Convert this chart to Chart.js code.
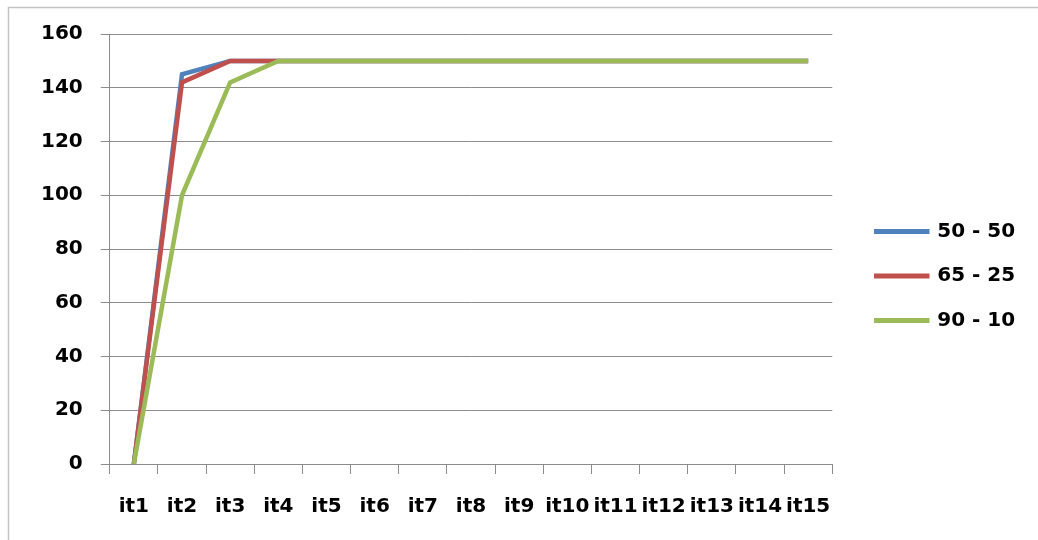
<!DOCTYPE html>
<html>
<head>
<meta charset="utf-8">
<script src="https://cdn.jsdelivr.net/npm/chart.js@4/dist/chart.umd.min.js"></script>
<style>
  html, body { margin: 0; padding: 0; background: #fff; }
  #wrap { position: relative; width: 1038px; height: 540px; }
</style>
</head>
<body>
<div id="wrap"><canvas id="chart"></canvas></div>
<script>
const categories = ['it1', 'it2', 'it3', 'it4', 'it5', 'it6', 'it7', 'it8', 'it9', 'it10', 'it11', 'it12', 'it13', 'it14', 'it15'];
const series5050 = [0, 145, 150, 150, 150, 150, 150, 150, 150, 150, 150, 150, 150, 150, 150];
const series6525 = [0, 142, 150, 150, 150, 150, 150, 150, 150, 150, 150, 150, 150, 150, 150];
const series9010 = [0, 100, 142, 150, 150, 150, 150, 150, 150, 150, 150, 150, 150, 150, 150];
const seriesNames = ['50 - 50', '65 - 25', '90 - 10'];
const yMin = 0;
const yMax = 160;
const yStep = 20;

const labelFont = { family: '"DejaVu Sans"', size: 20, weight: 'bold' };
const gridGray = '#8c8c8c';

// light frame around the whole chart, like the office export
const framePlugin = {
  id: 'frame',
  beforeDraw(chart) {
    const { ctx } = chart;
    ctx.save();
    ctx.fillStyle = '#fff';
    ctx.fillRect(0, 0, chart.width, chart.height);
    ctx.strokeStyle = '#c4c4c4';
    ctx.lineWidth = 1.5;
    ctx.strokeRect(8.5, 7.5, chart.width + 40, chart.height + 40);
    ctx.restore();
  }
};

function lineSet(label, data, color, order) {
  return {
    label,
    data,
    borderColor: color,
    backgroundColor: color,
    borderWidth: 4.5,
    pointRadius: 0,
    tension: 0,
    fill: false,
    order
  };
}

// empty axes used only as spacers around the plot
function spacer(position, size) {
  return {
    position,
    display: true,
    grid: { display: false, drawTicks: false },
    border: { display: false },
    ticks: { display: false },
    afterFit(scale) {
      if (position === 'top') scale.height = size;
      else scale.width = size;
    }
  };
}

new Chart(document.getElementById('chart'), {
  type: 'line',
  data: {
    labels: categories,
    datasets: [
      lineSet(seriesNames[0], series5050, '#4f81bd', 2),
      lineSet(seriesNames[1], series6525, '#c0504d', 1),
      lineSet(seriesNames[2], series9010, '#9bbb59', 0)
    ]
  },
  options: {
    responsive: true,
    maintainAspectRatio: false,
    animation: false,
    layout: { padding: { left: 23, top: 12, right: 20.5, bottom: 0 } },
    plugins: {
      tooltip: { enabled: false },
      legend: {
        position: 'right',
        labels: {
          font: labelFont,
          color: '#000',
          boxWidth: 51,
          boxHeight: 0.5,
          padding: 24.5,
          sort: (a, b) => a.datasetIndex - b.datasetIndex
        }
      }
    },
    scales: {
      x: {
        offset: true,
        grid: {
          offset: true,
          drawOnChartArea: false,
          drawTicks: true,
          tickLength: 10,
          color: gridGray
        },
        border: { display: true, color: gridGray, width: 1 },
        ticks: {
          font: labelFont,
          color: '#000',
          autoSkip: false,
          maxRotation: 0,
          padding: 21
        }
      },
      y: {
        min: yMin,
        max: yMax,
        grid: { color: gridGray, tickLength: 9 },
        border: { display: true, color: gridGray, width: 1 },
        ticks: {
          stepSize: yStep,
          font: labelFont,
          color: '#000',
          padding: 18
        }
      },
      gapRight: spacer('right', 19.5),
      gapTop: spacer('top', 22)
    }
  },
  plugins: [framePlugin]
});
</script>
</body>
</html>
